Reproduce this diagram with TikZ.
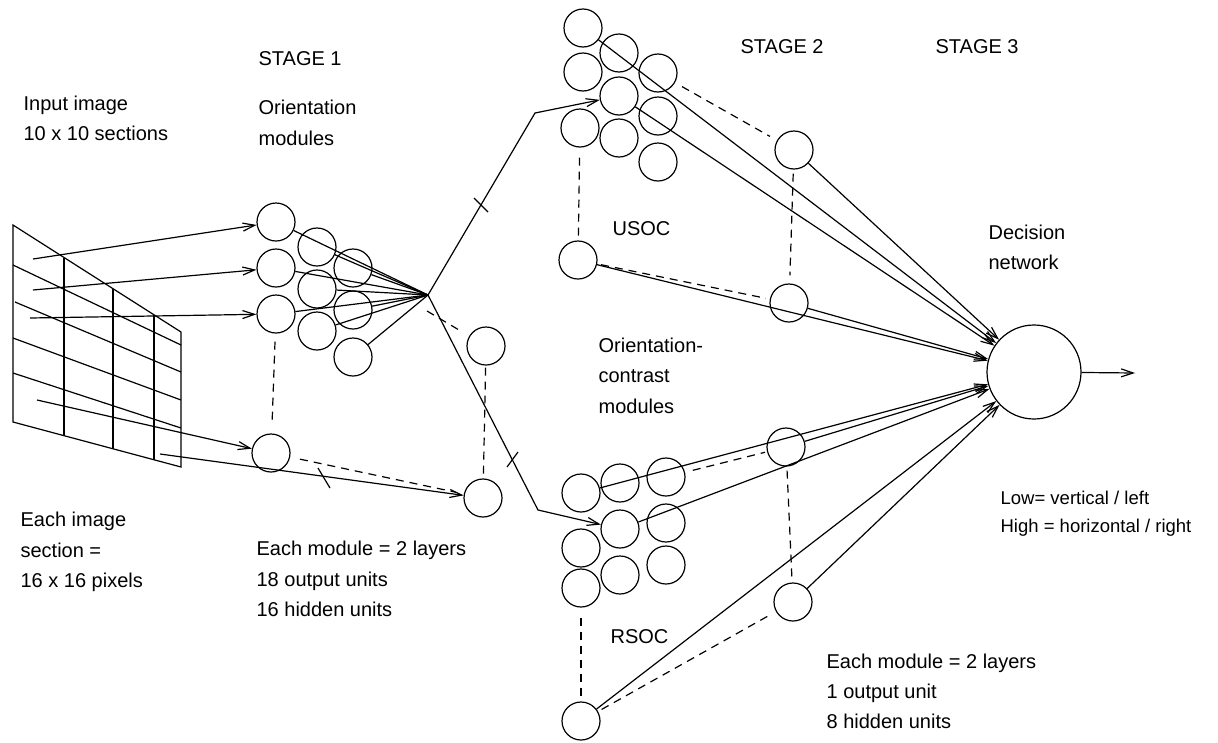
\documentclass[tikz,border=0pt]{standalone}
\usepackage{fontspec}
\setmainfont{Liberation Sans}
\usetikzlibrary{arrows.meta}
\tikzset{
  unit/.style={circle,draw,minimum size=38pt,inner sep=0pt},
  lbl/.style={anchor=base west,inner sep=0pt,font=\fontsize{20pt}{24pt}\selectfont},
  lbls/.style={anchor=base west,inner sep=0pt,font=\fontsize{18.5pt}{22pt}\selectfont},
  dsh/.style={dash pattern=on 8pt off 6pt},
  arr/.style={-{Straight Barb[length=12pt,width=8pt]}},
}
\begin{document}
\begin{tikzpicture}[x=1pt,y=-1pt,line width=1.2pt]
\useasboundingbox (0,0) rectangle (1218,742);
\fill[white] (0,0) rectangle (1218,742);

% ---------- texts ----------
\node[lbl] (st1) at (258,65) {STAGE 1};
\node[lbl] (st2) at (740,53) {STAGE 2};
\node[lbl] (st3) at (935,53) {STAGE 3};
\node[lbl] (om1) at (258,114) {Orientation};
\node[lbl] (om2) at (258,145) {modules};
\node[lbl] (in1) at (23,110) {Input image};
\node[lbl] (in2) at (23,140) {10 x 10 sections};
\node[lbl] (usoc) at (612,235) {USOC};
\node[lbl] (dn1) at (988,239) {Decision};
\node[lbl] (dn2) at (988,269) {network};
\node[lbl] (oc1) at (598,352) {Orientation-};
\node[lbl] (oc2) at (598,382) {contrast};
\node[lbl] (oc3) at (598,413) {modules};
\node[lbls] (lo) at (1000,504) {Low= vertical / left};
\node[lbls] (hi) at (1000,532) {High = horizontal / right};
\node[lbl] (ei1) at (20,526) {Each image};
\node[lbl] (ei2) at (20,557) {section =};
\node[lbl] (ei3) at (20,587) {16 x 16 pixels};
\node[lbl] (ma1) at (256,555) {Each module = 2 layers};
\node[lbl] (ma2) at (256,586) {18 output units};
\node[lbl] (ma3) at (256,616) {16 hidden units};
\node[lbl] (rsoc) at (610,643) {RSOC};
\node[lbl] (mb1) at (826,668) {Each module = 2 layers};
\node[lbl] (mb2) at (826,698) {1 output unit};
\node[lbl] (mb3) at (826,728) {8 hidden units};

% ---------- input image grid ----------
\draw (13,225) -- (181,332) -- (181,467) -- (13,422) -- cycle;
\draw (64,257.5) -- (64,435.7);
\draw (113,288.7) -- (113,448.8);
\draw (154,314.8) -- (154,459.8);
\draw (13,265) -- (181,345);
\draw (15,302) -- (181,372);
\draw (13,338) -- (181,400);
\draw (13,373) -- (181,428);
\coordinate (g1) at (33,259);
\coordinate (g2) at (33,290);
\coordinate (g3) at (30,318);
\coordinate (g4) at (37,400);
\coordinate (g5) at (160,454);

% ---------- stage 1 ----------
\node[unit] (s1a) at (276,222) {};
\node[unit] (s1b) at (276,268) {};
\node[unit] (s1c) at (276,314) {};
\node[unit] (s1d) at (317,247) {};
\node[unit] (s1e) at (317,289) {};
\node[unit] (s1f) at (317,331) {};
\node[unit] (s1g) at (353,268) {};
\node[unit] (s1h) at (353,310) {};
\node[unit] (s1i) at (353,357) {};
\node[unit] (s1n) at (271,453) {};
\node[unit] (s1r1) at (486,346) {};
\node[unit] (s1r2) at (483,498) {};
\coordinate (cv) at (428,295);
\coordinate (cvd) at (427,311);
\coordinate (bu) at (535,113);
\coordinate (bd) at (538,510);

\draw[arr] (g1) -- (s1a);
\draw[arr] (g2) -- (s1b);
\draw[arr] (g3) -- (s1c);
\draw[arr] (g4) -- (s1n);
\draw[arr] (g5) -- (s1r2);
\foreach \c in {s1a,s1b,s1c,s1d,s1e,s1f,s1g,s1h,s1i} \draw (\c) -- (cv);
\draw[dsh,shorten <=8pt,shorten >=8pt] (s1c) -- (s1n);
\draw[dsh,shorten <=2pt,shorten >=2pt] (s1r1) -- (s1r2);
\draw[dsh,shorten <=10pt,shorten >=8pt] (s1n) -- (s1r2);
\draw[dsh,shorten >=8pt] (cvd) -- (s1r1);
% tick marks
\draw (318,468) -- (330,488);
\draw (474,198) -- (488,212);
\draw (507,467) -- (518,452);

% ---------- stage 2: USOC ----------
\node[unit] (u1) at (583,28) {};
\node[unit] (u2) at (583,72) {};
\node[unit] (u3) at (580,128) {};
\node[unit] (u4) at (619,53) {};
\node[unit] (u5) at (619,96) {};
\node[unit] (u6) at (619,138) {};
\node[unit] (u7) at (658,73) {};
\node[unit] (u8) at (658,116) {};
\node[unit] (u9) at (658,162) {};
\node[unit] (un) at (578,260) {};
\node[unit] (v1) at (794,150) {};
\node[unit] (v2) at (789,303) {};

% ---------- stage 2: RSOC ----------
\node[unit] (r1) at (581,493) {};
\node[unit] (r2) at (581,548) {};
\node[unit] (r3) at (581,588) {};
\node[unit] (r4) at (620,483) {};
\node[unit] (r5) at (620,529) {};
\node[unit] (r6) at (620,575) {};
\node[unit] (r7) at (666,477) {};
\node[unit] (r8) at (666,523) {};
\node[unit] (r9) at (666,565) {};
\node[unit] (rn) at (581,721) {};
\node[unit] (w1) at (786,447) {};
\node[unit] (w2) at (793,602) {};

% ---------- stage 3 ----------
\node[circle,draw,minimum size=94pt,inner sep=0pt] (dec) at (1034,372) {};
\coordinate (out) at (1135,373);

% branches from stage 1
\draw[arr] (cv) -- (bu) -- (u5);
\draw[arr] (cv) -- (bd) -- (r5);

% USOC connections
\draw[dsh,shorten <=10pt,shorten >=4pt] (u3) -- (un);
\draw[arr] (u1) -- (dec);
\draw[arr] (u5) -- (dec);
\draw[dsh,shorten <=8pt,shorten >=8pt] (u7) -- (v1);
\draw[arr] (v1) -- (dec);
\draw[dsh,shorten <=4pt,shorten >=8pt] (v1) -- (v2);
\draw[arr] (un) -- (dec);
\draw[dsh,shorten <=4pt,shorten >=4pt] (un) -- (v2);
\draw[arr] (v2) -- (dec);

% RSOC connections
\draw[dsh,shorten <=10pt,shorten >=4pt] (r3) -- (rn);
\draw[arr] (r1) -- (dec);
\draw[dsh,shorten <=8pt,shorten >=2pt] (r7) -- (w1);
\draw[arr] (w1) -- (dec);
\draw[arr] (r5) -- (dec);
\draw[dsh,shorten <=4pt,shorten >=4pt] (w1) -- (w2);
\draw[arr] (rn) -- (dec);
\draw[dsh,shorten <=4pt,shorten >=4pt] (rn) -- (w2);
\draw[arr] (w2) -- (dec);

\draw[arr] (dec) -- (out);
\end{tikzpicture}
\end{document}
